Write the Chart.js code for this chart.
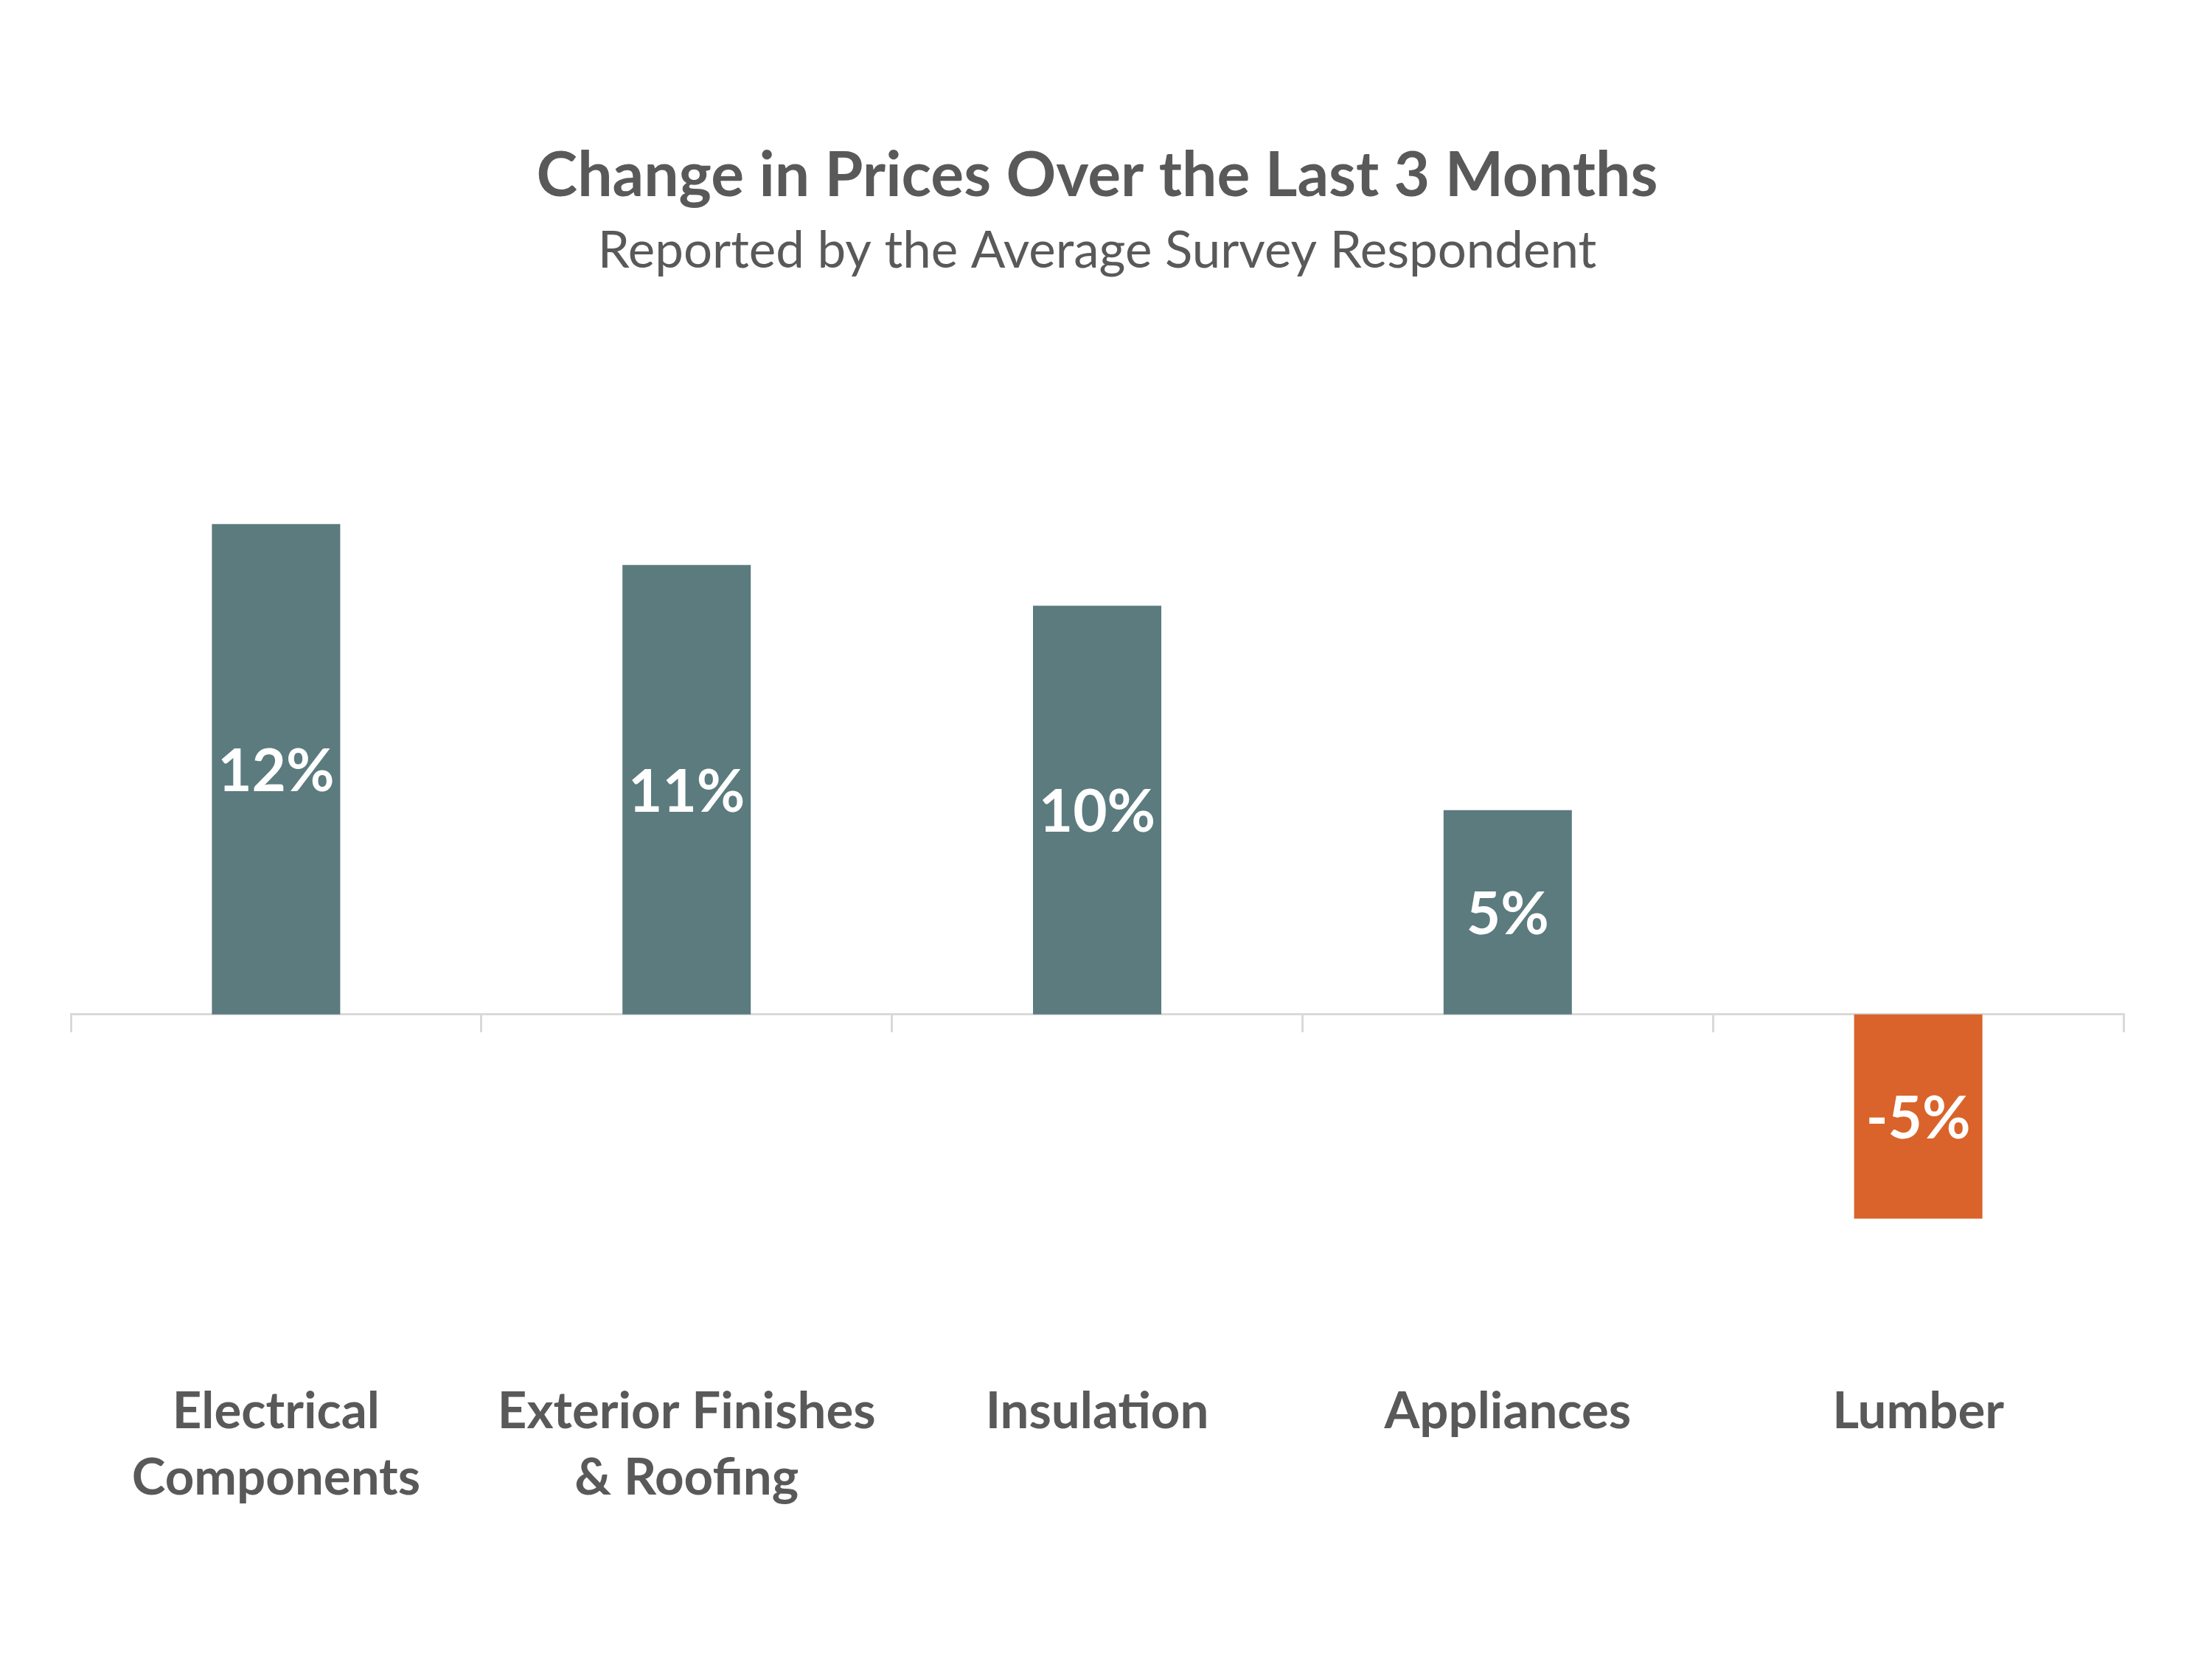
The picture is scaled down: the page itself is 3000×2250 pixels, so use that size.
<!DOCTYPE html>
<html>
<head>
<meta charset="utf-8">
<script src="https://cdn.jsdelivr.net/npm/chart.js@4"></script>
<style>
html,body{margin:0;padding:0;background:#fff;}
</style>
</head>
<body>
<canvas id="c" width="3000" height="2250"></canvas>
<script>
const categories = [["Electrical","Components"],["Exterior Finishes","& Roofing"],["Insulation"],["Appliances"],["Lumber"]];
const values = [12, 11, 10, 5, -5];
const titleText = "Change in Prices Over the Last 3 Months";
const subtitleText = "Reported by the Average Survey Respondent";

const FONT = "Lato";
const TEXT = "#595959";
const T = 84, S = 69;

const barLabels = {
  id: 'barLabels',
  afterDatasetsDraw(chart) {
    const ctx = chart.ctx;
    const meta = chart.getDatasetMeta(0);
    ctx.save();
    ctx.fillStyle = '#FFFFFF';
    ctx.font = "bold 80px " + FONT;
    ctx.textAlign = 'center';
    ctx.textBaseline = 'middle';
    meta.data.forEach((bar, i) => {
      const {x, y, base} = bar.getProps(['x','y','base'], true);
      ctx.fillText(values[i] + '%', x, (y + base) / 2 + 4);
    });
    ctx.restore();
  }
};

new Chart(document.getElementById('c'), {
  type: 'bar',
  data: {
    labels: categories,
    datasets: [{
      data: values,
      backgroundColor: (c) => (c.raw < 0 ? '#D9632A' : '#5B7B7E'),
      categoryPercentage: 1,
      barPercentage: 0.3125,
      borderWidth: 0
    }]
  },
  options: {
    responsive: false,
    devicePixelRatio: 1,
    animation: false,
    layout: { padding: { left: 96, right: 120, top: 0, bottom: 149 } },
    plugins: {
      legend: { display: false },
      tooltip: { enabled: false },
      title: {
        display: true, text: titleText, color: TEXT,
        font: { family: FONT, size: T, weight: 'bold', lineHeight: 1 },
        padding: { top: 239 - T/2, bottom: 0 }
      },
      subtitle: {
        display: true, text: subtitleText, color: TEXT,
        font: { family: FONT, size: S, weight: 'normal', lineHeight: 1 },
        padding: { top: 341 - S/2 - (239 + T/2), bottom: 544.5 - (341 + S/2) }
      }
    },
    scales: {
      y: { display: false, min: -8, max: 15 },
      x: {
        position: 'bottom',
        grid: { display: false, drawTicks: false },
        border: { display: false },
        ticks: { color: TEXT, padding: 51, maxRotation: 0, autoSkip: false,
          font: { family: FONT, size: 69, weight: 'bold', lineHeight: 90/69 } }
      },
      x2: {
        type: 'category', axis: 'x', position: { y: 0 }, z: 1,
        grid: { display: true, drawOnChartArea: false, drawTicks: true, tickLength: 23, color: '#D9D9D9', lineWidth: 3, offset: true },
        border: { display: true, color: '#D9D9D9', width: 3 },
        ticks: { display: false }
      }
    }
  },
  plugins: [barLabels]
});
</script>
</body>
</html>
